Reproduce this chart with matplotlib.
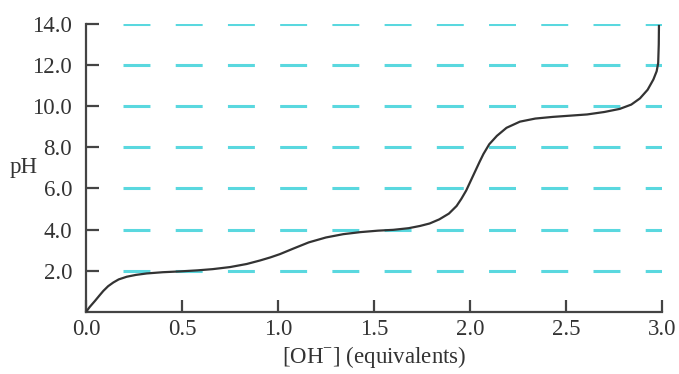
import matplotlib
matplotlib.use("Agg")
import matplotlib.pyplot as plt

# titration curve
equiv = [0.0, 0.02, 0.047, 0.07, 0.09, 0.115, 0.142, 0.17, 0.212, 0.26,
         0.316, 0.4, 0.49, 0.58, 0.66, 0.75, 0.837, 0.906, 0.96, 1.01,
         1.08, 1.16, 1.25, 1.34, 1.43, 1.52, 1.60, 1.68, 1.74, 1.79,
         1.84, 1.89, 1.93, 1.955, 1.98, 2.005, 2.03, 2.05, 2.07, 2.1,
         2.14, 2.19, 2.26, 2.34, 2.43, 2.52, 2.61, 2.70, 2.78, 2.84,
         2.885, 2.925, 2.955, 2.972, 2.98, 2.983, 2.984]
ph = [0.0, 0.25, 0.54, 0.8, 1.02, 1.25, 1.43, 1.58, 1.71, 1.8,
      1.87, 1.93, 1.97, 2.02, 2.08, 2.18, 2.33, 2.5, 2.65, 2.81,
      3.08, 3.38, 3.62, 3.78, 3.88, 3.95, 3.99, 4.07, 4.18, 4.3,
      4.5, 4.78, 5.15, 5.5, 5.9, 6.4, 6.9, 7.3, 7.68, 8.15,
      8.56, 8.95, 9.25, 9.4, 9.48, 9.54, 9.6, 9.72, 9.87, 10.08,
      10.38, 10.8, 11.3, 11.7, 12.1, 13.0, 13.9]

ref_levels = [2.0, 4.0, 6.0, 8.0, 10.0, 12.0, 14.0]
x_ticks = [0.0, 0.5, 1.0, 1.5, 2.0, 2.5, 3.0]
y_ticks = [2.0, 4.0, 6.0, 8.0, 10.0, 12.0, 14.0]

plt.rcParams["font.family"] = ["Liberation Serif", "DejaVu Serif"]
plt.rcParams["mathtext.fontset"] = "custom"
plt.rcParams["mathtext.rm"] = "Liberation Serif"
plt.rcParams["lines.scale_dashes"] = False

fig = plt.figure(figsize=(6.79, 3.74), dpi=100)
ax = fig.add_axes([0.1267, 0.166, 0.8483, 0.770])

# dashed cyan reference lines
for lvl in ref_levels:
    ax.plot([0.19, 3.0], [lvl, lvl], color="#5ad8df", lw=2.2,
            dashes=(19.4, 18.2), dash_capstyle="butt", zorder=1)

ax.plot(equiv, ph, color="#333333", lw=1.6, zorder=3,
        solid_joinstyle="round")

ax.set_xlim(0, 3.0)
ax.set_ylim(0, 14)
ax.set_xticks(x_ticks)
ax.set_xticklabels([f"{v:.1f}" for v in x_ticks])
ax.set_yticks(y_ticks)
ax.set_yticklabels([f"{v:.1f}" for v in y_ticks])

for s in ["top", "right"]:
    ax.spines[s].set_visible(False)
for s in ["left", "bottom"]:
    ax.spines[s].set_linewidth(1.6)
    ax.spines[s].set_color("#444444")

ax.tick_params(direction="in", length=9, width=1.6, color="#444444",
               labelsize=16.5, labelcolor="#333333")
ax.tick_params(axis="y", pad=10)
ax.tick_params(axis="x", pad=5)

ax.set_xlabel(r"[OH$^{\mathrm{-}}$] (equivalents)", fontsize=16.5,
              color="#333333", labelpad=3)
ax.set_ylabel("pH", fontsize=16.5, color="#333333", rotation=0)
ax.yaxis.set_label_coords(-0.108, 0.465)

fig.savefig("out.png", dpi=100)
